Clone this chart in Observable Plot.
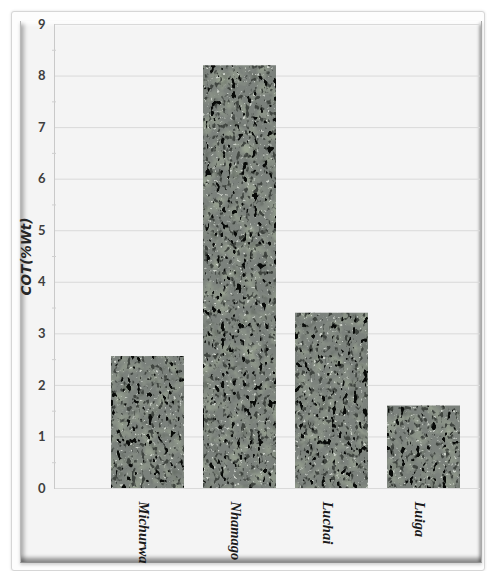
<!DOCTYPE html>
<html>
<head>
<meta charset="utf-8">
<script src="https://cdn.jsdelivr.net/npm/d3@7"></script>
<script src="https://cdn.jsdelivr.net/npm/@observablehq/plot@0.6"></script>
<style>
  html, body { margin: 0; padding: 0; background: #ffffff; }
  #wrap { position: relative; width: 487px; height: 571px; overflow: hidden; }
  /* outer chart-area border */
  #outer {
    position: absolute; left: 11px; top: 11px; width: 472px; height: 558px;
    border: 1px solid #d6d6d6; background: #fdfdfd;
    box-shadow: 0 0 3px rgba(0,0,0,0.12);
    border-radius: 3px;
  }
  /* bevelled plot panel */
  #panel {
    position: absolute; left: 20px; top: 21px; width: 460px; height: 541px;
    background: #f4f4f4;
    box-shadow:
      inset 0 6px 4px -3px #ffffff,
      inset 6px 0 4px -3px rgba(0,0,0,0.30),
      inset 0 -7px 4px -3px rgba(0,0,0,0.42),
      inset -4px 0 3px -2px rgba(0,0,0,0.32),
      0 2px 3px rgba(0,0,0,0.18);
    border-left: 1px solid #b9b9b9;
    border-bottom: 1px solid #8f8f8f;
    border-right: 1px solid #a9a9a9;
  }
  #chart { position: absolute; left: 0; top: 0; }
</style>
</head>
<body>
<div id="wrap">
  <div id="outer"></div>
  <div id="panel"></div>
  <div id="chart"></div>
</div>
<script>
// Total organic carbon by site
const sites = ["Michurwa", "Nhamago", "Luchai", "Luiga"];
const cot = [2.56, 8.2, 3.4, 1.6];
const yTicks = [0, 1, 2, 3, 4, 5, 6, 7, 8, 9];
const yMinorTicks = [0.5, 1.5, 2.5, 3.5, 4.5, 5.5, 6.5, 7.5, 8.5];
const yTitle = "COT(%Wt)";

const rows = sites.map((site, i) => ({site, cot: cot[i]}));

const chart = Plot.plot({
  width: 487,
  height: 571,
  marginLeft: 54,
  marginRight: 7,
  marginTop: 24,
  marginBottom: 83,
  style: {background: "transparent", overflow: "visible"},
  x: {domain: sites, range: [100.5, 469.5], paddingInner: 0.21, paddingOuter: 0.105, axis: null},
  y: {domain: [0, 9], axis: null},
  marks: [
    Plot.gridY(yTicks, {stroke: "#d9d9d9", strokeOpacity: 1}),
    Plot.frame({anchor: "left", stroke: "#c9c9c9"}),
    Plot.axisY(yMinorTicks, {tickSize: 4, dx: 2, tickFormat: () => "", stroke: "#cfcfcf", label: null}),
    Plot.axisY(yTicks, {
      tickSize: 0, tickPadding: 9, label: null, tickFormat: d3.format("d"),
      fontSize: 13, fontWeight: "bold", fontFamily: "Lato, 'Open Sans', sans-serif", fill: "#3f3f3f"
    }),
    Plot.barY(rows, {x: "site", y: "cot", fill: "#7f8581"}),
    Plot.axisX({
      tickSize: 0, tickRotate: 90, tickPadding: 13, label: null, dx: -4,
      fontSize: 14.5, fontWeight: "bold", fontStyle: "italic",
      fontFamily: "'Liberation Serif', serif", fill: "#1a1a1a"
    }),
    Plot.text([yTitle], {
      frameAnchor: "left", dx: -28, rotate: -90, textAnchor: "middle",
      fontSize: 13.5, fontWeight: "bold", fontStyle: "italic",
      fontFamily: "'DejaVu Sans', sans-serif", fill: "#262626"
    })
  ]
});

// granite texture for the bars
const svg = d3.select(chart);
const defs = svg.insert("defs", ":first-child");
const f = defs.append("filter")
  .attr("id", "granite")
  .attr("x", 0).attr("y", 0).attr("width", 1).attr("height", 1)
  .attr("color-interpolation-filters", "sRGB");
function layer(freq, octaves, seed, name, matrix) {
  f.append("feTurbulence").attr("type", "fractalNoise").attr("baseFrequency", freq)
    .attr("numOctaves", octaves).attr("seed", seed).attr("result", name + "N");
  f.append("feColorMatrix").attr("in", name + "N").attr("type", "matrix")
    .attr("values", matrix).attr("result", name);
}
f.append("feFlood").attr("flood-color", "#7b817c").attr("result", "base");
// broad mottling, lighter and greener patches
layer("0.07", 3, 7, "mottle", "0 0 0 0 0.6  0 0 0 0 0.64  0 0 0 0 0.57  2.4 0 0 0 -1.05");
layer("0.1", 2, 21, "shade", "0 0 0 0 0.36  0 0 0 0 0.39  0 0 0 0 0.35  -2.4 0 0 0 0.95");
// pale grains
layer("0.3", 2, 11, "light", "0 0 0 0 0.8  0 0 0 0 0.82  0 0 0 0 0.79  8 0 0 0 -5.35");
// mid-dark grains
layer("0.22 0.17", 2, 5, "mid", "0 0 0 0 0.25  0 0 0 0 0.27  0 0 0 0 0.25  -8 0 0 0 3.28");
// black shards
layer("0.19 0.13", 2, 3, "dark", "0 0 0 0 0.03  0 0 0 0 0.04  0 0 0 0 0.03  -16 0 0 0 5.65");
const merge = f.append("feMerge").attr("result", "tex");
["base", "mottle", "shade", "light", "mid", "dark"].forEach(r => merge.append("feMergeNode").attr("in", r));
f.append("feGaussianBlur").attr("in", "tex").attr("stdDeviation", 0.65).attr("result", "soft");
f.append("feComposite").attr("in", "soft").attr("in2", "SourceGraphic").attr("operator", "in");

svg.selectAll("g[aria-label='bar'] rect").attr("filter", "url(#granite)");

document.getElementById("chart").appendChild(chart);
</script>
</body>
</html>
